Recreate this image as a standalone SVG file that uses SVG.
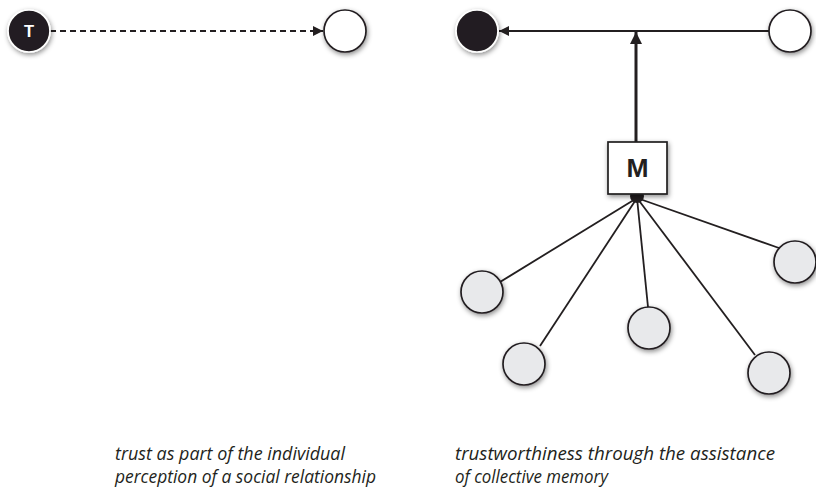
<svg xmlns="http://www.w3.org/2000/svg" width="816" height="493" viewBox="0 0 816 493">
  <style>
    .node { stroke: #231f20; stroke-width: 1.7; filter: url(#glow); }
    .dark { fill: #231f20; stroke: #ffffff; }
    .open { fill: #ffffff; }
    .member { fill: #e8e9eb; }
    .edge { stroke: #231f20; fill: none; stroke-width: 1.8; }
    .label { font-family: "Open Sans", "Liberation Sans", sans-serif; font-style: italic; font-size: 17.5px; fill: #231f20; }
  </style>
  <defs>
    <filter id="glow" x="-40%" y="-40%" width="180%" height="180%">
      <feDropShadow dx="1" dy="2" stdDeviation="2.6" flood-color="#000000" flood-opacity="0.45"/>
    </filter>
    <marker id="head" viewBox="0 0 10 10" refX="10" refY="5" markerWidth="10" markerHeight="10" markerUnits="userSpaceOnUse" orient="auto">
      <path d="M0,0 L10,5 L0,10 Z" fill="#231f20"/>
    </marker>
    <marker id="headBig" viewBox="0 0 10 10" refX="10" refY="5" markerWidth="12" markerHeight="12" markerUnits="userSpaceOnUse" orient="auto">
      <path d="M0,0 L10,5 L0,10 Z" fill="#231f20"/>
    </marker>
  </defs>

  <rect width="816" height="493" fill="#ffffff"/>

  <g id="connectors">
    <!-- individual trust: dashed link -->
    <line class="edge" x1="50" y1="31" x2="323" y2="31" stroke-dasharray="6 4" marker-end="url(#head)"/>
    <!-- collective trust link -->
    <line class="edge" x1="769" y1="31" x2="499" y2="31" marker-end="url(#head)"/>
    <!-- memory feeding the link -->
    <line class="edge" style="stroke-width:3" x1="636" y1="142" x2="636" y2="32" marker-end="url(#headBig)"/>
    <!-- members to memory -->
    <line class="edge" x1="637" y1="198" x2="500" y2="282"/>
    <line class="edge" x1="637" y1="198" x2="540" y2="346"/>
    <line class="edge" x1="637" y1="198" x2="648" y2="307"/>
    <line class="edge" x1="637" y1="198" x2="755" y2="355"/>
    <line class="edge" x1="637" y1="198" x2="779" y2="248"/>
  </g>

  <g id="node-t">
    <circle class="node dark" cx="29" cy="31" r="21"/>
    <text x="29" y="37" font-family="Liberation Sans, Arial, sans-serif" font-weight="bold" font-size="16.5" fill="#ffffff" text-anchor="middle">T</text>
  </g>
  <g id="node-partner">
    <circle class="node open" cx="345" cy="31" r="21"/>
  </g>

  <g id="node-trustor">
    <circle class="node dark" cx="477" cy="31" r="21"/>
  </g>
  <g id="node-trustee">
    <circle class="node open" cx="790" cy="31" r="21"/>
  </g>

  <g id="node-junction">
    <circle cx="637" cy="196" r="7" fill="#231f20"/>
  </g>
  <g id="node-memory">
    <rect class="node open" x="608" y="142" width="59" height="52"/>
    <text x="637.5" y="177" font-family="Liberation Sans, Arial, sans-serif" font-weight="bold" font-size="26.5" fill="#231f20" text-anchor="middle">M</text>
  </g>

  <g id="node-member-1"><circle class="node member" cx="482" cy="292" r="21"/></g>
  <g id="node-member-2"><circle class="node member" cx="524" cy="364" r="21"/></g>
  <g id="node-member-3"><circle class="node member" cx="649" cy="328" r="21"/></g>
  <g id="node-member-4"><circle class="node member" cx="769" cy="373" r="21"/></g>
  <g id="node-member-5"><circle class="node member" cx="795" cy="262" r="21"/></g>

  <g id="captions">
    <text class="label" x="115" y="460" textLength="230" lengthAdjust="spacingAndGlyphs">trust as part of the individual</text>
    <text class="label" x="115" y="483" textLength="261" lengthAdjust="spacingAndGlyphs">perception of a social relationship</text>
    <text class="label" x="455" y="460" textLength="320" lengthAdjust="spacingAndGlyphs">trustworthiness through the assistance</text>
    <text class="label" x="455" y="483" textLength="153" lengthAdjust="spacingAndGlyphs">of collective memory</text>
  </g>
</svg>
